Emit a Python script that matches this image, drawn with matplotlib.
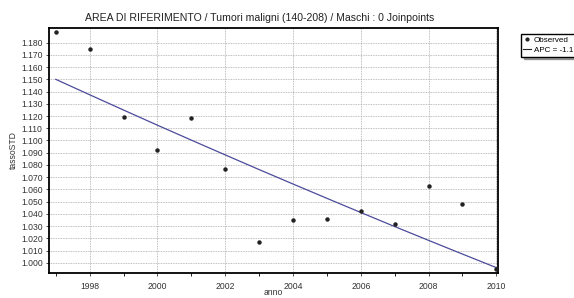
import numpy as np
import matplotlib
matplotlib.use("Agg")
import matplotlib.pyplot as plt
from matplotlib.ticker import MultipleLocator, FormatStrFormatter

plt.rcParams['font.family'] = ['Liberation Sans', 'DejaVu Sans']

# dati
anni = [1997, 1998, 1999, 2000, 2001, 2002, 2003, 2004, 2005, 2006, 2007, 2008, 2009, 2010]
osservati = [1.189, 1.175, 1.119, 1.092, 1.118, 1.077, 1.017, 1.035, 1.036, 1.042, 1.032, 1.063, 1.048, 0.995]
stimati = [1.150, 1.1374, 1.1249, 1.1125, 1.1003, 1.0882, 1.0762, 1.0644, 1.0527, 1.0411,
           1.0296, 1.0183, 1.0071, 0.9960]
tick_y = [1.000, 1.010, 1.020, 1.030, 1.040, 1.050, 1.060, 1.070, 1.080, 1.090,
          1.100, 1.110, 1.120, 1.130, 1.140, 1.150, 1.160, 1.170, 1.180]
titolo = "AREA DI RIFERIMENTO / Tumori maligni (140-208) / Maschi : 0 Joinpoints"
etichette_legenda = ["Observed", "APC = -1.1"]

fig = plt.figure(figsize=(5.74, 2.98), dpi=100)
ax = fig.add_axes([49/574, 1-273/298, (498-49)/574, (273-28)/298])

ax.plot(anni, stimati, color='#4b4b9b', lw=0.9, zorder=3)
ax.plot(anni, osservati, 'o', color='#222222', ms=2.2, zorder=4)

ax.set_xlim(1996.8, 2010.05)
ax.set_ylim(0.9916, 1.192)
ax.xaxis.set_major_locator(MultipleLocator(2))
ax.xaxis.set_minor_locator(MultipleLocator(1))
ax.set_yticks(tick_y)
ax.yaxis.set_major_formatter(FormatStrFormatter('%.3f'))
ax.tick_params(labelsize=6.2, length=2.5, width=0.6, pad=2, colors='#333333')
ax.tick_params(axis='x', which='minor', length=2, width=0.6)
ax.tick_params(axis='x', pad=4)
ax.grid(True, which='major', color='#aaaaaa', ls=(0, (1, 1)), lw=0.6)
for s in ax.spines.values():
    s.set_linewidth(1.3)

ax.set_title(titolo, fontsize=7.6, color='#222222', pad=5, x=0.47)
ax.set_ylabel("tassoSTD", fontsize=6.2, color='#333333', labelpad=2)
ax.set_xlabel("anno", fontsize=6.2, color='#333333', labelpad=-2)

h_obs = plt.Line2D([], [], marker='o', ls='none', color='#222222', ms=2)
h_fit = plt.Line2D([], [], color='#222222', lw=0.8)
fig.legend([h_obs, h_fit], etichette_legenda, loc='upper left',
           bbox_to_anchor=(517/574, 1-30/298), fontsize=5.8, frameon=True,
           fancybox=False, shadow=True, edgecolor='black', handlelength=0.9,
           handletextpad=0.4, borderpad=0.3, labelspacing=0.3, framealpha=1)

fig.savefig("out.png", dpi=100)
